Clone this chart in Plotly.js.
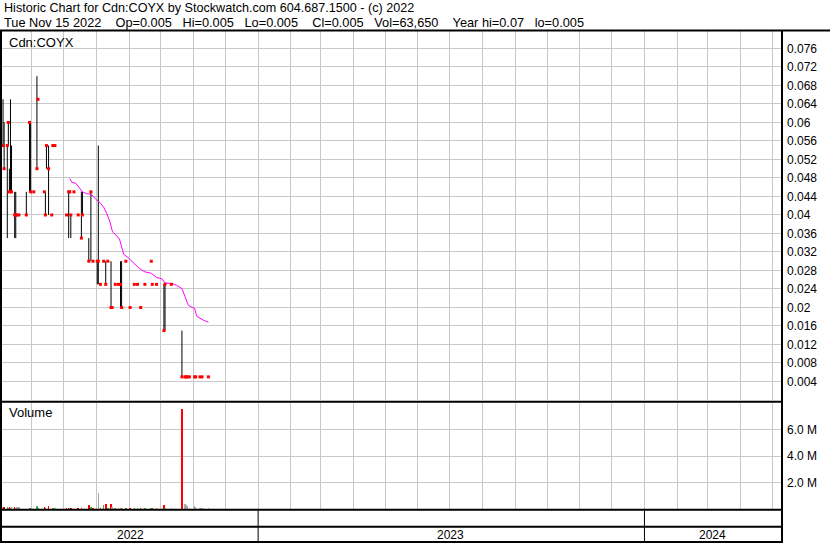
<!DOCTYPE html>
<html><head><meta charset="utf-8">
<script src="https://cdn.plot.ly/plotly-3.0.1.min.js"></script>
<style>html,body{margin:0;padding:0;background:#fff;overflow:hidden}#chart{width:830px;height:543px}</style>
</head><body><div id="chart"></div>
<script>
// ---- data ----
const dates = ['2022-05-05','2022-05-06','2022-05-09','2022-05-10','2022-05-11','2022-05-12','2022-05-13','2022-05-16','2022-05-17','2022-05-18',
'2022-05-20','2022-05-27','2022-05-30','2022-05-31','2022-06-03','2022-06-06','2022-06-07','2022-06-13','2022-06-14','2022-06-15',
'2022-06-17','2022-06-20','2022-06-21','2022-06-23','2022-07-04','2022-07-06','2022-07-07','2022-07-08','2022-07-11','2022-07-15',
'2022-07-18','2022-07-19','2022-07-25','2022-07-27','2022-07-29','2022-08-02','2022-08-03','2022-08-05','2022-08-08','2022-08-10',
'2022-08-12','2022-08-15','2022-08-16','2022-08-19','2022-08-22','2022-08-24','2022-08-25','2022-08-29','2022-09-02','2022-09-06',
'2022-09-09','2022-09-12','2022-09-16','2022-09-22','2022-09-23','2022-09-27','2022-10-04','2022-10-05','2022-10-11','2022-10-21',
'2022-10-24','2022-10-25','2022-10-26','2022-10-28','2022-11-02','2022-11-03','2022-11-07','2022-11-09','2022-11-15'];
const highs = [.065,.060,.055,.060,.050,.065,.055,.045,.045,.040,
.040,.045,.060,.060,.045,.070,.065,.045,.045,.055,
.055,.040,.055,.055,.040,.045,.045,.040,.045,.040,
.045,.045,.035,.045,.030,.030,.055,.025,.030,.030,
.030,.030,.020,.025,.025,.030,.030,.030,.020,.025,
.025,.020,.025,.030,.025,.025,.025,.025,.025,.015,
.005,.005,.005,.005,.005,.005,.005,.005,.005];
const lows = [.055,.050,.035,.055,.045,.045,.045,.035,.035,.040,
.040,.040,.045,.045,.045,.050,.065,.045,.040,.050,
.040,.040,.055,.055,.040,.035,.045,.035,.045,.040,
.035,.040,.030,.030,.030,.025,.025,.025,.030,.025,
.030,.020,.020,.025,.025,.020,.020,.030,.020,.025,
.025,.020,.025,.030,.025,.025,.015,.015,.025,.005,
.005,.005,.005,.005,.005,.005,.005,.005,.005];
const closes = [.055,.050,.055,.060,.045,.045,.045,.040,.040,.040,
.040,.040,.060,.045,.045,.050,.065,.045,.040,.055,
.050,.040,.055,.055,.040,.045,.045,.040,.045,.040,
.035,.040,.030,.045,.030,.030,.030,.025,.030,.025,
.030,.020,.020,.025,.025,.025,.020,.030,.020,.025,
.025,.020,.025,.030,.025,.025,.015,.025,.025,.005,
.005,.005,.005,.005,.005,.005,.005,.005,.005];
const volumes = [150000,150000,150000,100000,150000,100000,150000,170000,100000,150000,
150000,30000,75000,75000,30000,220000,75000,150000,75000,30000,
220000,30000,75000,75000,75000,75000,75000,75000,30000,75000,
75000,30000,300000,170000,75000,30000,1190000,75000,300000,370000,
75000,370000,150000,75000,75000,75000,50000,75000,75000,75000,
75000,75000,75000,50000,75000,75000,300000,75000,75000,7540000,
370000,300000,220000,75000,220000,150000,50000,75000,63650];
const maDates = ['2022-07-07','2022-07-09','2022-07-13','2022-07-15','2022-07-17','2022-07-19','2022-07-23','2022-07-26','2022-07-29','2022-08-01',
'2022-08-04','2022-08-08','2022-08-11','2022-08-14','2022-08-16','2022-08-17','2022-08-20','2022-08-23','2022-08-25','2022-08-27',
'2022-08-31','2022-09-03','2022-09-07','2022-09-11','2022-09-16','2022-09-22','2022-09-27','2022-10-02','2022-10-05','2022-10-11',
'2022-10-16','2022-10-21','2022-10-24','2022-10-27','2022-10-30','2022-11-02','2022-11-04','2022-11-07','2022-11-10','2022-11-15'];
const maValues = [.0479,.0471,.0468,.0462,.0455,.0450,.0446,.0445,.0441,.0433,
.0428,.0417,.0403,.0385,.0367,.0362,.0356,.0348,.0331,.0315,
.0308,.0301,.0294,.0284,.0277,.0274,.0265,.0262,.0253,.0252,
.0248,.0241,.0223,.0205,.0201,.0198,.0181,.0176,.0173,.0168];
const priceTickValues = [0.004,0.008,0.012,0.016,0.02,0.024,0.028,0.032,0.036,0.04,0.044,0.048,0.052,0.056,0.06,0.064,0.068,0.072,0.076];
const priceTickLabels = ['0.004','0.008','0.012','0.016','0.02','0.024','0.028','0.032','0.036','0.04','0.044','0.048','0.052','0.056','0.06','0.064','0.068','0.072','0.076'];
const volTickValues = [2000000,4000000,6000000];
const volTickLabels = ['2.0 M','4.0 M','6.0 M'];
const years = ['2022','2023','2024'];
const headerLines = ['Historic Chart for Cdn:COYX by Stockwatch.com 604.687.1500 - (c) 2022',
'Tue Nov 15 2022    Op=0.005   Hi=0.005   Lo=0.005    Cl=0.005   Vol=63,650    Year hi=0.07   lo=0.005'];
const symbolLabel = 'Cdn:COYX';
const volumeLabel = 'Volume';

// ---- layout helpers ----
const W = 830, H = 543;
const PX = p => p / W, PY = p => 1 - p / H;
const X_RANGE = ['2022-05-04', '2024-05-09'];
const FONT = 'Liberation Sans, Arial, sans-serif';
const GRID = '#c8c8c8';
const RED = '#ff0000', GREEN = '#3cb043', GRAY = '#a8a8a8';

// high-low segments
const hlX = [], hlY = [];
dates.forEach((d, i) => { if (highs[i] > lows[i]) { hlX.push(d, d, null); hlY.push(lows[i], highs[i], null); } });
// volume colours: change of close vs previous close
const volColors = closes.map((c, i) => i === 0 ? GRAY : (c > closes[i-1] ? GREEN : (c < closes[i-1] ? RED : GRAY)));

const traces = [
  {type:'scatter', mode:'lines', x:hlX, y:hlY, xaxis:'x', yaxis:'y', line:{color:'#000', width:1}, connectgaps:false, hoverinfo:'skip'},
  {type:'scatter', mode:'lines', x:maDates, y:maValues, xaxis:'x', yaxis:'y', line:{color:'#ff00ff', width:1}, hoverinfo:'skip'},
  {type:'scatter', mode:'markers', x:dates, y:closes, xaxis:'x', yaxis:'y', marker:{symbol:'square', size:3, color:RED, line:{width:0}}, hoverinfo:'skip'},
  {type:'bar', x:dates, y:volumes, xaxis:'x2', yaxis:'y2', marker:{color:volColors, line:{width:0}}, width:1.5*86400000, hoverinfo:'skip'}
];

const xBase = {type:'date', range:X_RANGE, domain:[PX(2), PX(781)], showgrid:true, gridcolor:GRID, gridwidth:1,
  dtick:'M1', tick0:'2022-01-01', showticklabels:false, ticks:'', zeroline:false, showline:false, fixedrange:true};

const shapes = [];
const hline = (y, x0, x1, w) => shapes.push({type:'line', xref:'paper', yref:'paper', x0:PX(x0), x1:PX(x1), y0:PY(y), y1:PY(y), line:{color:'#000', width:w}});
const vline = (x, y0, y1, w) => shapes.push({type:'line', xref:'paper', yref:'paper', x0:PX(x), x1:PX(x), y0:PY(y0), y1:PY(y1), line:{color:'#000', width:w}});
hline(30.5, 0, 830, 2);
hline(401.8, 0, 783, 2);
hline(509.8, 0, 783, 2);
hline(526.8, 0, 783, 2);
hline(542, 0, 783, 2);
vline(1, 30, 543, 2);
vline(782, 30, 543, 2);
years.slice(1).forEach(yr => shapes.push({type:'line', xref:'x', yref:'paper', x0:yr+'-01-01', x1:yr+'-01-01', y0:PY(543), y1:PY(510.5), line:{color:'#000', width:1}}));

const annotations = [];
const txt = (s, xp, yp, size) => annotations.push({text:s.replace(/ /g,'\u00a0'), xref:'paper', yref:'paper', x:PX(xp), y:PY(yp), xanchor:'left', yanchor:'middle', showarrow:false, font:{family:FONT, size:size, color:'#000'}, borderpad:0});
txt(headerLines[0], 3, 8, 12.6);
txt(headerLines[1], 3, 22, 12.75);
txt(symbolLabel, 8, 42, 13);
txt(volumeLabel, 8, 413, 13);
const r0 = new Date(X_RANGE[0]).getTime(), r1 = new Date(X_RANGE[1]).getTime();
years.forEach(yr => {
  const a = Math.max(r0, new Date(yr+'-01-01').getTime());
  const b = Math.min(r1, new Date((+yr+1)+'-01-01').getTime());
  annotations.push({text:yr, xref:'x', yref:'paper', x:new Date((a+b)/2).toISOString().slice(0,10), y:PY(534.5), xanchor:'center', yanchor:'middle', showarrow:false, font:{family:FONT, size:12, color:'#000'}, borderpad:0});
});

const layout = {
  width:W, height:H, margin:{l:0, r:0, t:0, b:0}, paper_bgcolor:'#fff', plot_bgcolor:'#fff', showlegend:false,
  xaxis: Object.assign({}, xBase, {anchor:'y'}),
  xaxis2: Object.assign({}, xBase, {anchor:'y2', matches:'x'}),
  yaxis: {domain:[PY(400), PY(31)], range:[0, (400-31)/4626], side:'right', anchor:'x', tickmode:'array', tickvals:priceTickValues, ticktext:priceTickLabels,
    showgrid:true, gridcolor:GRID, gridwidth:1, zeroline:false, showline:false, ticks:'', ticklabelstandoff:5,
    tickfont:{family:FONT, size:12, color:'#000'}, fixedrange:true},
  yaxis2: {domain:[PY(509), PY(403)], range:[0, 8000000], side:'right', anchor:'x2', tickmode:'array', tickvals:volTickValues, ticktext:volTickLabels,
    showgrid:true, gridcolor:GRID, gridwidth:1, zeroline:false, showline:false, ticks:'', ticklabelstandoff:5,
    tickfont:{family:FONT, size:12, color:'#000'}, fixedrange:true},
  bargap:0, shapes:shapes, annotations:annotations
};
Plotly.newPlot('chart', traces, layout, {staticPlot:true, displayModeBar:false});
</script></body></html>
